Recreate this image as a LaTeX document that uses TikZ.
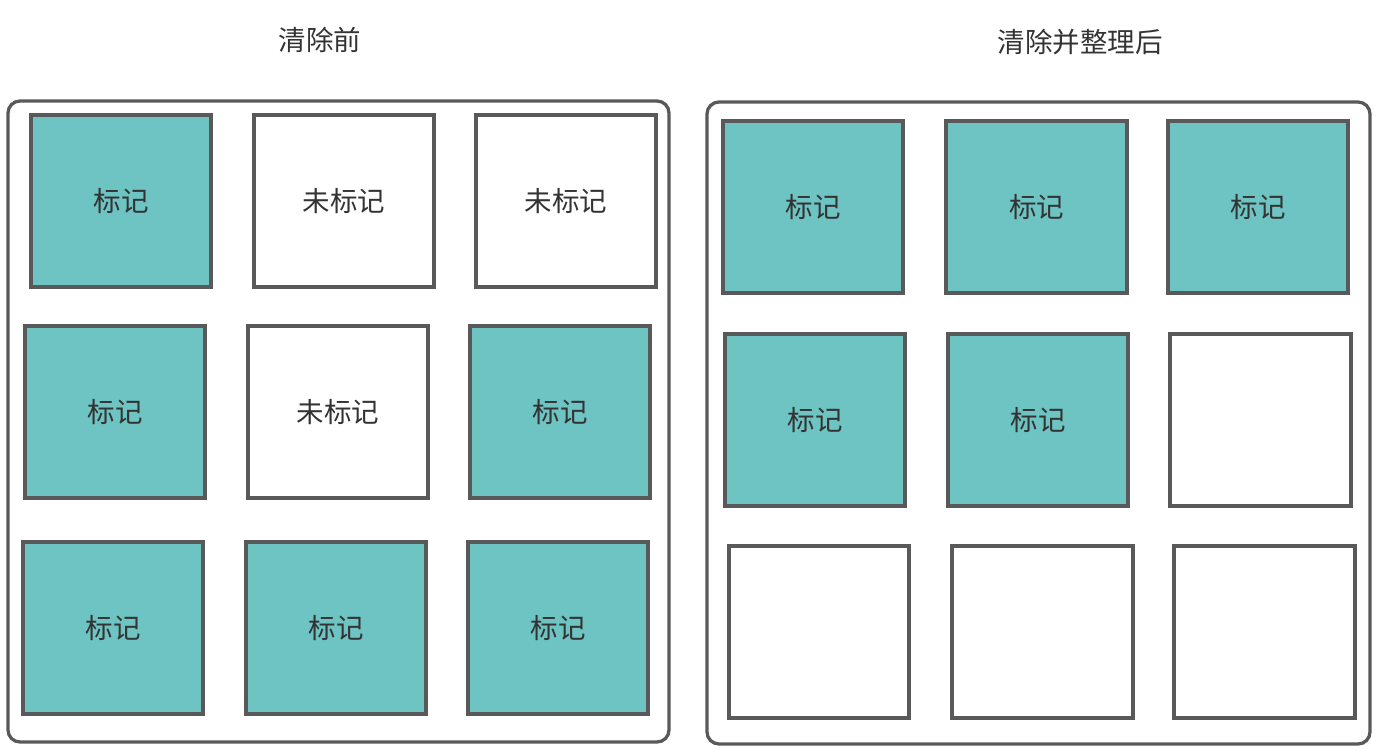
\documentclass[tikz,border=0pt]{standalone}
\usepackage{fontspec}
\newfontfamily\cjk{Noto Sans CJK SC}
\definecolor{teal1}{HTML}{6EC3C3}
\definecolor{edge}{HTML}{595959}
\definecolor{txt}{HTML}{333333}
\begin{document}
\begin{tikzpicture}[x=1pt,y=-1pt,
  frame/.style={draw=edge,line width=3.3pt,rounded corners=12pt},
  cellbox/.style={draw=edge,line width=3.3pt,fill=white},
  markbox/.style={cellbox,fill=teal1},
  lbl/.style={font=\cjk\fontsize{27.5}{32}\selectfont,text=txt}]
\useasboundingbox (0,0) rectangle (1377,748);
\draw[frame] (8,101) rectangle (669,742);
\draw[frame] (707,102) rectangle (1370,744);
\node[lbl] (t1) at (320,40) {清除前};
\node[lbl] (t2) at (1080,42) {清除并整理后};
\newcommand{\mycell}[7]{\draw[#1] (#2,#3) rectangle (#4,#5); \node[lbl] (#7) at ({(#2+#4)/2},{(#3+#5)/2}) {#6};}
% left
\mycell{markbox}{31}{115}{211}{287}{标记}{l11}
\mycell{cellbox}{254}{115}{434}{287}{未标记}{l12}
\mycell{cellbox}{476}{115}{656}{287}{未标记}{l13}
\mycell{markbox}{25}{326}{205}{498}{标记}{l21}
\mycell{cellbox}{248}{326}{428}{498}{未标记}{l22}
\mycell{markbox}{470}{326}{650}{498}{标记}{l23}
\mycell{markbox}{23}{542}{203}{714}{标记}{l31}
\mycell{markbox}{246}{542}{426}{714}{标记}{l32}
\mycell{markbox}{468}{542}{648}{714}{标记}{l33}
% right
\mycell{markbox}{723}{121}{903}{293}{标记}{r11}
\mycell{markbox}{946}{121}{1127}{293}{标记}{r12}
\mycell{markbox}{1168}{121}{1348}{293}{标记}{r13}
\mycell{markbox}{725}{334}{905}{506}{标记}{r21}
\mycell{markbox}{948}{334}{1128}{506}{标记}{r22}
\mycell{cellbox}{1170}{334}{1351}{506}{}{r23}
\mycell{cellbox}{729}{546}{909}{718}{}{r31}
\mycell{cellbox}{952}{546}{1133}{718}{}{r32}
\mycell{cellbox}{1174}{546}{1355}{718}{}{r33}
\end{tikzpicture}
\end{document}
